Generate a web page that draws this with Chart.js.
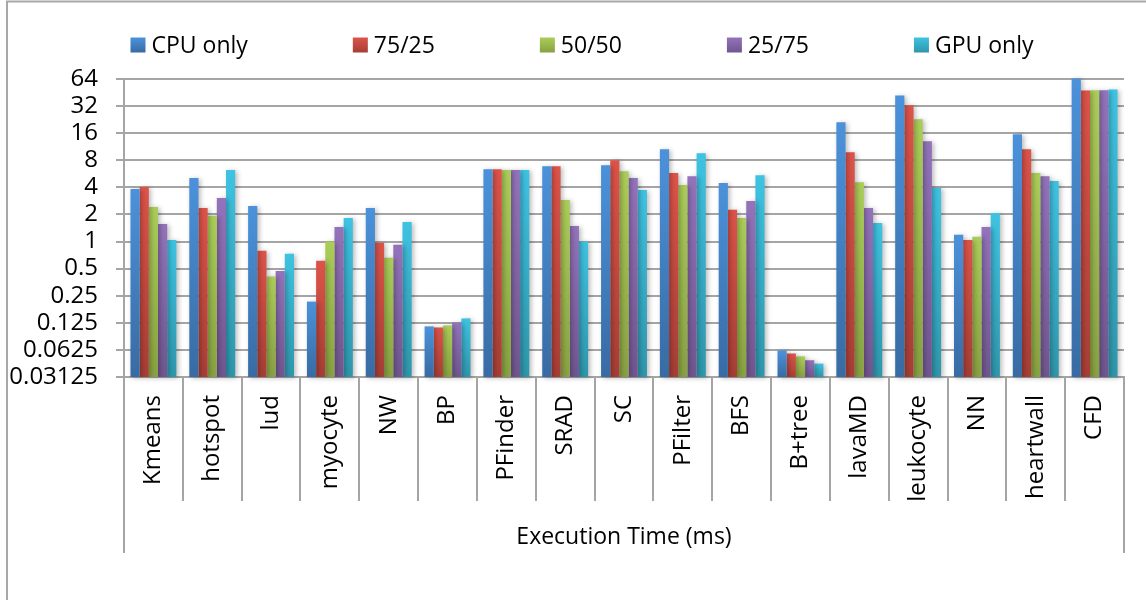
<!DOCTYPE html>
<html>
<head>
<meta charset="utf-8">
<script src="https://cdn.jsdelivr.net/npm/chart.js@4/dist/chart.umd.min.js"></script>
<style>
  html, body { margin: 0; padding: 0; background: #ffffff; }
  #wrap { width: 1146px; height: 600px; position: relative; }
</style>
</head>
<body>
<div id="wrap"><canvas id="chart" width="1146" height="600"></canvas></div>
<script>
// Benchmarks on the category axis
const categories = ['Kmeans', 'hotspot', 'lud', 'myocyte', 'NW', 'BP', 'PFinder', 'SRAD', 'SC',
  'PFilter', 'BFS', 'B+tree', 'lavaMD', 'leukocyte', 'NN', 'heartwall', 'CFD'];

// Work split between CPU and GPU
const seriesNames = ['CPU only', '75/25', '50/50', '25/75', 'GPU only'];

// Execution time (ms) per benchmark for each split
const cpuOnly   = [3.83, 5.07, 2.48, 0.215, 2.36, 0.114, 6.37, 6.88, 7.06, 10.6, 4.46, 0.0617, 21.1, 42.0, 1.19, 15.6, 65.0];
const split7525 = [4.03, 2.36, 0.79, 0.61, 0.97, 0.111, 6.37, 6.88, 8.0, 5.77, 2.25, 0.057, 9.85, 32.6, 1.04, 10.6, 47.8];
const split5050 = [2.42, 1.94, 0.41, 1.0, 0.66, 0.117, 6.22, 2.89, 6.06, 4.24, 1.83, 0.053, 4.57, 22.8, 1.13, 5.77, 48.0];
const split2575 = [1.57, 3.05, 0.47, 1.45, 0.92, 0.126, 6.22, 1.49, 5.07, 5.33, 2.82, 0.048, 2.36, 13.0, 1.45, 5.33, 48.0];
const gpuOnly   = [1.04, 6.22, 0.73, 1.83, 1.65, 0.14, 6.22, 1.0, 3.73, 9.6, 5.47, 0.044, 1.61, 3.93, 2.07, 4.7, 48.8];

// Log2 value axis
const tickValues = [0.03125, 0.0625, 0.125, 0.25, 0.5, 1, 2, 4, 8, 16, 32, 64];
const tickLabels = ['0.03125', '0.0625', '0.125', '0.25', '0.5', '1', '2', '4', '8', '16', '32', '64'];

const axisTitle = 'Execution Time (ms)';

const seriesValues = [cpuOnly, split7525, split5050, split2575, gpuOnly];

// Top / bottom shades of each series' vertical gradient
const palette = [
  { top: '#4b92db', bottom: '#386ba3' },
  { top: '#dd5349', bottom: '#a63e35' },
  { top: '#abcd58', bottom: '#88a142' },
  { top: '#9373bb', bottom: '#70568f' },
  { top: '#3ec3e2', bottom: '#2e96ab' }
];

const FONT = '"Open Sans", "Liberation Sans", sans-serif';
const GRID = '#a5a5a5';
Chart.defaults.font.family = FONT;
Chart.defaults.color = '#000000';

function barFill(i) {
  return (ctx) => {
    const chart = ctx.chart;
    const area = chart.chartArea;
    if (!area || ctx.type !== 'data' || ctx.raw == null) return palette[i].top;
    const y = chart.scales.y.getPixelForValue(ctx.raw);
    const g = chart.ctx.createLinearGradient(0, y, 0, area.bottom);
    g.addColorStop(0, palette[i].top);
    g.addColorStop(1, palette[i].bottom);
    return g;
  };
}

// Outer frame and the extended side rules of the category box
const framePlugin = {
  id: 'frame',
  beforeDraw(chart) {
    const ctx = chart.ctx;
    ctx.save();
    ctx.strokeStyle = '#a8a8a8';
    ctx.lineWidth = 2;
    ctx.beginPath();
    ctx.moveTo(7, 600);
    ctx.lineTo(7, 1.5);
    ctx.lineTo(1146, 1.5);
    ctx.stroke();
    ctx.restore();
  },
  afterDraw(chart) {
    const ctx = chart.ctx;
    const area = chart.chartArea;
    const xs = chart.scales.x;
    ctx.save();
    ctx.strokeStyle = GRID;
    ctx.lineWidth = 2;
    ctx.beginPath();
    ctx.moveTo(area.left, area.bottom);
    ctx.lineTo(area.left, xs.bottom);
    ctx.moveTo(area.right, area.bottom);
    ctx.lineTo(area.right, xs.bottom);
    ctx.stroke();
    ctx.restore();
  }
};

// Soft drop shadow behind the bars
const shadowPlugin = {
  id: 'barShadow',
  beforeDatasetsDraw(chart) {
    const ctx = chart.ctx;
    ctx.save();
    ctx.shadowColor = 'rgba(0,0,0,0.28)';
    ctx.shadowBlur = 5;
    ctx.shadowOffsetX = 2;
    ctx.shadowOffsetY = 1;
  },
  afterDatasetsDraw(chart) {
    chart.ctx.restore();
  }
};

// Single-row legend above the plot
const legendPlugin = {
  id: 'topLegend',
  afterDraw(chart) {
    const ctx = chart.ctx;
    const box = 15, textGap = 6, itemGap = 105, cy = 45, centerX = 582;
    ctx.save();
    ctx.font = '23px ' + FONT;
    ctx.textBaseline = 'middle';
    ctx.textAlign = 'left';
    const sets = chart.data.datasets;
    const widths = sets.map(d => box + textGap + ctx.measureText(d.label).width);
    const total = widths.reduce((a, b) => a + b, 0) + itemGap * (widths.length - 1);
    let x = centerX - total / 2;
    sets.forEach((d, i) => {
      const g = ctx.createLinearGradient(0, cy - box / 2, 0, cy + box / 2);
      g.addColorStop(0, palette[i].top);
      g.addColorStop(1, palette[i].bottom);
      ctx.fillStyle = g;
      ctx.fillRect(x, cy - box / 2, box, box);
      ctx.fillStyle = '#000000';
      ctx.fillText(d.label, x + box + textGap, cy + 1);
      x += widths[i] + itemGap;
    });
    ctx.restore();
  }
};

const datasets = seriesNames.map((name, i) => ({
  label: name,
  data: seriesValues[i],
  backgroundColor: barFill(i),
  borderWidth: 0,
  categoryPercentage: 0.78,
  barPercentage: 1.0,
  clip: false
}));

new Chart(document.getElementById('chart'), {
  type: 'bar',
  data: { labels: categories, datasets },
  plugins: [framePlugin, shadowPlugin, legendPlugin],
  options: {
    responsive: false,
    animation: false,
    layout: { padding: { left: 0, right: 22, top: 79, bottom: 47 } },
    plugins: {
      legend: { display: false },
      tooltip: { enabled: false }
    },
    scales: {
      x: {
        offset: true,
        grid: {
          offset: true,
          drawOnChartArea: false,
          drawTicks: true,
          tickLength: 124,
          tickColor: GRID,
          tickWidth: 2,
          color: GRID,
          lineWidth: 2
        },
        border: { display: true, color: GRID, width: 2 },
        ticks: {
          autoSkip: false,
          minRotation: 90,
          maxRotation: 90,
          padding: -106,
          color: '#000000',
          font: { size: 24 }
        },
        title: {
          display: true,
          text: axisTitle,
          color: '#000000',
          font: { size: 23 },
          padding: { top: 0, bottom: 2 }
        },
        afterFit(scale) { scale.height = 176; }
      },
      y: {
        type: 'logarithmic',
        min: 0.03125,
        max: 64,
        grid: {
          color: GRID,
          lineWidth: 2,
          drawTicks: true,
          tickLength: 8,
          tickColor: GRID,
          tickWidth: 2
        },
        border: { display: true, color: GRID, width: 2 },
        ticks: {
          autoSkip: false,
          padding: 18,
          color: '#000000',
          font: { size: 24 },
          callback(value) {
            const k = tickValues.indexOf(value);
            return k >= 0 ? tickLabels[k] : '';
          }
        },
        afterBuildTicks(scale) {
          scale.ticks = tickValues.map(v => ({ value: v }));
        },
        afterFit(scale) { scale.width = 124; }
      }
    }
  }
});
</script>
</body>
</html>
